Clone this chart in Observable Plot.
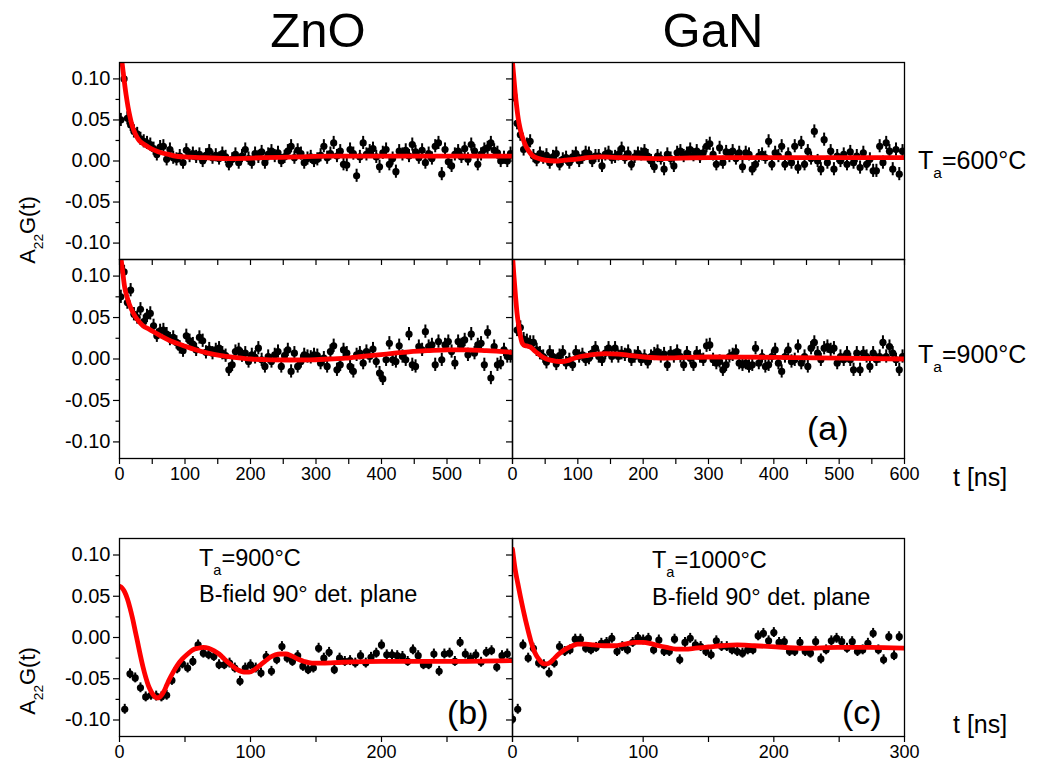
<!DOCTYPE html>
<html><head><meta charset="utf-8">
<script src="https://cdn.jsdelivr.net/npm/d3@7"></script>
<script src="https://cdn.jsdelivr.net/npm/@observablehq/plot@0.6"></script>
<style>
body{margin:0;background:#fff;}
#fig{position:relative;width:1046px;height:767px;background:#fff;font-family:"Liberation Sans",Arial,sans-serif;color:#000;overflow:hidden;}
#fig .lbl{position:absolute;white-space:nowrap;line-height:1;}
#fig svg{position:absolute;overflow:visible;}
.s{font-size:0.62em;vertical-align:-0.6em;}
</style></head><body><div id="fig"></div>
<script>
// ---------- data ----------
const columns = ["ZnO", "GaN"];
const rowLabels = ["600°C", "900°C"];
const yMajor = [-0.10, -0.05, 0.00, 0.05, 0.10];
const yMinor = [-0.075, -0.025, 0.025, 0.075];
const xTopMajor = [0, 100, 200, 300, 400, 500, 600];
const xTopMinor = [50, 150, 250, 350, 450, 550];
const xBotMajor = [0, 100, 200, 300];
const xBotMinor = [50, 150, 250];
const xLabZnOTop = [0, 100, 200, 300, 400, 500];
const xLabGaNTop = [0, 100, 200, 300, 400, 500, 600];
const xLabZnOBot = [0, 100, 200];
const xLabGaNBot = [0, 100, 200, 300];

// time channels (ns)
const tTop = [2,7,12,17,22,27,32,37,42,47,52,57,62,67,72,77,82,87,92,97,102,107,112,117,122,127,132,137,142,147,152,157,162,167,172,177,182,187,192,197,202,207,212,217,222,227,232,237,242,247,252,257,262,267,272,277,282,287,292,297,302,307,312,317,322,327,332,337,342,347,352,357,362,367,372,377,382,387,392,397,402,407,412,417,422,427,432,437,442,447,452,457,462,467,472,477,482,487,492,497,502,507,512,517,522,527,532,537,542,547,552,557,562,567,572,577,582,587,592,597];
const tBot = [0,4,8,12,16,20,24,28,32,36,40,44,48,52,56,60,64,68,72,76,80,84,88,92,96,100,104,108,112,116,120,124,128,132,136,140,144,148,152,156,160,164,168,172,176,180,184,188,192,196,200,204,208,212,216,220,224,228,232,236,240,244,248,252,256,260,264,268,272,276,280,284,288,292,296];

// A22G(t) values
const zno600 = [.050,.100,.052,.044,.036,.033,.027,.024,.022,.020, .015,.008,.017,.018,.002,.014,.004,.002,.006,-.002, .013,.006,.009,.005,.008,.000,.007,.012,.004,.007, .003,.009,.005,-.004,.002,.008,-.002,.006,.014,.003, -.002,.009,.005,.011,-.002,.008,.012,.006,.010,.000, .005,.012,.018,.004,.013,.009,-.002,.003,.005,.000, .002,.007,.018,.004,.009,.022,.006,.012,-.004,-.005, .014,.009,-.018,.005,.022,.008,.012,.015,.005,-.007, .010,.014,-.004,.003,-.013,.012,.008,.013,.006,.020, .011,.004,.013,-.002,.009,.003,.018,.022,-.016,.014, -.001,-.006,.008,.012,.005,.015,.002,.020,.012,-.004, .008,.014,.016,.022,.013,.010,.000,.004,.000,.009];
const gan600 = [.080,.046,.032,.014,.020,.024,.006,.001,.009,.004, .007,-.002,.005,.009,-.004,.002,.004,-.002,.005,.009, .000,.004,.010,.009,.000,.006,.006,-.006,.008,.010, .004,.005,.008,.015,.004,.009,-.004,.005,.009,.008, .012,.006,.000,-.007,.006,.003,-.010,.008,.003,-.006, .010,.012,.006,.009,.014,.007,.012,.005,.010,.018, .021,.008,-.004,.016,-.002,.011,.006,.012,.003,.010, -.007,.010,.008,-.010,-.004,.006,.008,.004,.024,-.004, .010,.006,.018,-.004,.008,-.002,.018,-.008,.022,-.004, .012,.003,.036,.000,-.010,.026,-.002,.012,-.010,.006, .000,.008,-.004,.011,-.002,.006,-.008,.010,-.004,.002, -.012,-.012,.018,-.002,.022,.012,-.010,.014,-.016,.012];
const zno900 = [.075,.105,.068,.083,.054,.050,.060,.045,.052,.055, .040,.028,.034,.035,.030,.024,.026,.020,.014,.010, .028,.022,.018,.011,.026,.022,.008,.012,.007,.011, .013,.007,.004,-.013,-.007,.009,.011,.004,.007,-.003, .005,.002,.013,-.001,-.009,.003,-.003,.005,.009,-.009, .004,.011,-.015,.007,-.009,-.003,.005,.003,.002,.005, .004,-.005,.001,-.009,.009,.016,-.013,-.007,.011,.007, -.009,-.015,.005,.007,-.005,.009,.003,.012,-.003,-.017, -.024,-.001,.019,-.001,-.003,.016,.003,-.001,.030,-.007, -.009,.015,.011,.033,.015,.017,-.007,.021,-.001,.017, .021,.009,-.005,.021,.017,.023,.005,.030,.007,.017, .019,-.007,.032,-.023,.015,-.007,-.005,.011,.003,.003];
const gan900 = [null,.035,.038,.024,.022,.020,.020,.011,.007,.003, -.004,.008,.003,-.006,.004,.008,-.005,-.001,-.007,.008, .003,.005,-.001,.001,.007,.013,.003,-.001,.007,.013, .003,.013,.003,.007,.005,.009,-.001,.003,.007,-.001, .003,-.004,.003,.006,.009,.003,.006,-.007,.007,.003, .009,.003,-.007,.007,.001,-.007,.007,.003,-.001,.016, .017,-.001,-.005,-.003,-.013,-.007,.003,.005,.009,-.005, -.007,-.005,-.009,-.007,.013,-.005,.003,-.009,-.007,.003, .011,-.005,-.015,.003,.011,-.003,-.001,.015,-.005,.003, -.009,.013,.020,.007,-.001,.013,.015,.011,.013,-.005, .003,-.001,.007,-.001,-.013,.007,-.013,.007,.003,-.009, .007,-.001,.003,.020,.003,.015,.007,-.001,-.013,.003];
const znoB = [null,-.087,-.044,-.049,-.061,-.072,-.070,-.071,-.072,-.070, -.052,-.038,-.032,-.037,-.029,-.009,-.019,-.021,-.023,-.033, -.033,-.031,-.037,-.053,-.037,-.033,-.037,-.043,-.023,-.041, -.027,-.011,-.025,-.029,-.022,-.035,-.039,-.037,-.013,-.025, -.018,-.039,-.025,-.029,-.028,-.031,-.022,-.031,-.024,-.019, -.009,-.021,-.021,-.022,-.023,-.029,-.015,-.022,-.033,-.033, -.020,-.041,-.020,-.019,-.029,-.006,-.020,-.025,-.021,-.030, -.018,-.016,-.036,-.022,-.020];
const ganB = [-.099,-.087,-.009,-.025,-.013,-.031,-.033,-.043,-.031,-.011, -.017,-.015,-.002,-.002,-.013,-.015,-.012,-.007,-.006,-.001, -.017,-.011,-.015,-.006,.000,-.003,-.001,-.015,-.003,-.017, -.017,-.002,-.027,-.006,-.001,-.009,-.011,-.017,-.021,-.004, -.011,-.011,-.015,-.017,-.019,-.015,-.015,.002,.005,-.004, .006,-.006,-.005,-.017,-.017,-.006,-.017,-.019,-.005,-.026, -.015,-.004,-.001,-.005,-.013,-.005,-.017,-.015,-.007,.005, -.015,-.027,.001,-.022,.001];

// fitted curves (red)
const fitZno600T = [0,4,7,10,13,16,19,22,26,30,36,44,54,64,75,85,100,130,170,220,270,320,400,500,600];
const fitZno600V = [.150,.119,.099,.081,.066,.054,.044,.037,.030,.025,.021,.017,.013,.010,.008,.006,.005,.004,.003,.004,.005,.006,.006,.006,.006];
const fitGan600T = [0,2,4,6,8,10,13,16,20,25,30,40,50,65,80,95,115,135,165,220,300,400,500,600];
const fitGan600V = [.120,.102,.084,.069,.056,.046,.035,.027,.019,.012,.007,.003,.001,.000,.001,.002,.004,.005,.004,.003,.004,.004,.004,.004];
const fitZno900T = [0,3,5,8,11,15,20,25,30,36,45,54,65,79,95,115,135,155,175,200,230,260,290,320,345,370,395,420,445,470,500,530,560,600];
const fitZno900V = [.135,.117,.104,.086,.076,.066,.057,.050,.045,.040,.036,.032,.027,.0215,.017,.0114,.007,.004,.002,.000,-.001,-.0012,-.001,.000,.001,.003,.005,.007,.009,.010,.011,.011,.010,.008];
const fitGan900T = [0,2,4.6,7,9.6,12,14.7,17,19.8,23,27,31,35,40,45,52,60,68,76,84,91,104,116,130,142,162,182,202,233,268,300,400,500,600];
const fitGan900V = [.125,.102,.076,.055,.040,.028,.0195,.017,.016,.0155,.0146,.012,.009,.006,.003,.000,-.0016,-.0028,-.003,-.002,.000,.003,.0045,.006,.0065,.006,.004,.0024,.0012,.002,.0024,.002,.001,.000];
const fitZnoBT = [0,2,4,6,8,10,12,14,16,18,20,22,24,26,28,30,32,34,36,38,41,44,48,52,56,60,64,68,72,76,80,85,90,95,99,103,107,111,115,119,123,127,131,136,141,147,155,170,200,250,300];
const fitZnoBV = [.062,.060,.055,.047,.036,.023,.008,-.007,-.022,-.036,-.048,-.058,-.065,-.070,-.073,-.073,-.070,-.065,-.058,-.051,-.042,-.034,-.026,-.020,-.015,-.013,-.012,-.013,-.016,-.020,-.026,-.033,-.039,-.042,-.042,-.039,-.034,-.029,-.024,-.021,-.020,-.020,-.022,-.026,-.029,-.031,-.031,-.030,-.029,-.029,-.028];
const fitGanBT = [0,2,4,6,8,10,12,14,16,18,20,22,24,26,28,31,34,38,42,46,50,56,62,70,78,86,94,100,106,112,118,125,132,140,150,160,172,185,198,223,249,274,300];
const fitGanBV = [.107,.083,.066,.050,.035,.021,.008,-.004,-.014,-.021,-.026,-.030,-.032,-.032,-.031,-.027,-.022,-.017,-.013,-.010,-.008,-.008,-.009,-.010,-.010,-.008,-.006,-.006,-.0075,-.010,-.012,-.014,-.014,-.013,-.0115,-.010,-.009,-.010,-.011,-.013,-.012,-.012,-.013];

const errTop = 0.008, errBot = 0.006;

// ---------- drawing ----------
const fig = document.getElementById("fig");
const FONT = "'Liberation Sans', Arial, sans-serif";
const yfmt = d => d.toFixed(2);
const blank = () => "";

function panel(c) {
  const L = 80, R = 20, T = 20, B = 40;
  const pts = c.t.map((t, i) => ({t, v: c.v[i]})).filter(d => d.v != null);
  const fit = c.ft.map((t, i) => ({t, v: c.fv[i]}));
  const svg = Plot.plot({
    width: L + c.w + R, height: T + c.h + B,
    marginLeft: L, marginRight: R, marginTop: T, marginBottom: B,
    x: {domain: c.xd, label: null},
    y: {domain: [-0.12, 0.12], label: null},
    style: {fontFamily: FONT, fontSize: "18px", color: "#000", background: "transparent", overflow: "visible"},
    marks: [
      Plot.ruleX(pts, {x: "t", y1: d => d.v - c.err, y2: d => d.v + c.err, stroke: "#000", strokeWidth: 2, clip: true}),
      Plot.dot(pts, {x: "t", y: "v", r: 3.6, fill: "#000", stroke: null, clip: true}),
      Plot.line(fit, {x: "t", y: "v", stroke: "#ff0000", strokeWidth: 4.8, curve: "monotone-x", clip: true}),
      Plot.axisY({ticks: yMajor, tickSize: 6, tickFormat: c.yLab ? yfmt : blank, label: null, fontSize: 20, stroke: "#000", strokeWidth: 1.2}),
      Plot.axisY({ticks: yMinor, tickSize: 3.5, tickFormat: blank, label: null, stroke: "#000", strokeWidth: 1.2}),
      Plot.axisX({ticks: c.xMajor, tickSize: 6, tickFormat: c.xLab ? (d => c.xLab.includes(d) ? String(d) : "") : blank, label: null, fontSize: 18, stroke: "#000", strokeWidth: 1.2}),
      Plot.axisX({ticks: c.xMinor, tickSize: 6, tickFormat: blank, label: null, stroke: "#000", strokeWidth: 1.2}),
      Plot.frame({stroke: "#000", strokeWidth: 1.3})
    ]
  });
  svg.style.left = (c.left - L) + "px";
  svg.style.top = (c.top - T) + "px";
  fig.appendChild(svg);
}

const W = 393;
panel({left: 119, top: 62, w: W, h: 197, xd: [0, 600], t: tTop, v: zno600, ft: fitZno600T, fv: fitZno600V, err: errTop, yLab: true, xMajor: xTopMajor, xMinor: xTopMinor, xLab: null});
panel({left: 512, top: 62, w: W - 1, h: 197, xd: [0, 600], t: tTop, v: gan600, ft: fitGan600T, fv: fitGan600V, err: errTop, yLab: false, xMajor: xTopMajor, xMinor: xTopMinor, xLab: null});
panel({left: 119, top: 259, w: W, h: 199, xd: [0, 600], t: tTop, v: zno900, ft: fitZno900T, fv: fitZno900V, err: errTop, yLab: true, xMajor: xTopMajor, xMinor: xTopMinor, xLab: xLabZnOTop});
panel({left: 512, top: 259, w: W - 1, h: 199, xd: [0, 600], t: tTop, v: gan900, ft: fitGan900T, fv: fitGan900V, err: errTop, yLab: false, xMajor: xTopMajor, xMinor: xTopMinor, xLab: xLabGaNTop});
panel({left: 119, top: 538, w: W, h: 198, xd: [0, 300], t: tBot, v: znoB, ft: fitZnoBT, fv: fitZnoBV, err: errBot, yLab: true, xMajor: xBotMajor, xMinor: xBotMinor, xLab: xLabZnOBot});
panel({left: 512, top: 538, w: W - 1, h: 198, xd: [0, 300], t: tBot, v: ganB, ft: fitGanBT, fv: fitGanBV, err: errBot, yLab: false, xMajor: xBotMajor, xMinor: xBotMinor, xLab: xLabGaNBot});

function label(html, x, base, fs, opt = {}) {
  const d = document.createElement("div");
  d.className = "lbl";
  d.innerHTML = html;
  d.style.fontSize = fs + "px";
  if (opt.rotate) {
    d.style.left = x + "px"; d.style.top = base + "px";
    d.style.transform = "translate(-50%,-50%) rotate(-90deg)";
  } else {
    d.style.left = x + "px";
    d.style.top = (base - 0.8465 * fs) + "px";
    if (opt.center) d.style.transform = "translateX(-50%)";
  }
  fig.appendChild(d);
}

label(columns[0], 318, 47, 49, {center: true});
label(columns[1], 713, 47, 49, {center: true});
label("A<span class='s'>22</span>G(t)", 31, 230, 22, {rotate: true});
label("A<span class='s'>22</span>G(t)", 31, 681, 22, {rotate: true});
label("T<span class='s'>a</span>=" + rowLabels[0], 918, 169, 25);
label("T<span class='s'>a</span>=" + rowLabels[1], 918, 363, 25);
label("t [ns]", 953, 486, 25);
label("t [ns]", 953, 733, 25);
label("(a)", 807, 440, 34);
label("(b)", 447, 724, 34);
label("(c)", 842, 724, 34);
label("T<span class='s'>a</span>=900°C", 199, 567, 23.5);
label("B-field 90° det. plane", 199, 603, 23.5);
label("T<span class='s'>a</span>=1000°C", 652, 569, 23.5);
label("B-field 90° det. plane", 652, 606, 23.5);
</script>
</body></html>
